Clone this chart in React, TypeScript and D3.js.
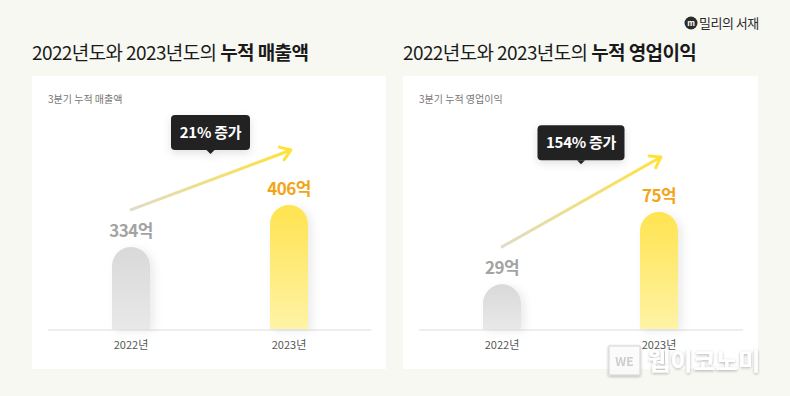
import * as d3 from 'd3';

const years = ['2022년', '2023년'];
const salesValues = [334, 406];
const profitValues = [29, 75];
const growthLabels = ['21% 증가', '154% 증가'];
const titleLight = '2022년도와 2023년도의 ';
const titleBold = ['누적 매출액', '누적 영업이익'];
const subTitles = ['3분기 누적 매출액', '3분기 누적 영업이익'];
const domainMin = [192, 0];

const W = 790;
const H = 396;
const FONT = "'Noto Sans CJK KR', 'Noto Sans', sans-serif";

const panels = [
  { x: 32, w: 354, values: salesValues, tipGap: 30, barX: [112, 270] },
  { x: 403, w: 355, values: profitValues, tipGap: 42, barX: [483, 640] },
];

const baseY = 330;
const barW = 38;

function barPath(x: number, top: number, w: number, bottom: number) {
  const r = w / 2;
  const p = d3.path();
  p.moveTo(x, bottom);
  p.lineTo(x, top + r);
  p.arc(x + r, top + r, r, Math.PI, 0);
  p.lineTo(x + w, bottom);
  p.closePath();
  return p.toString();
}

function Panel({ i }: { i: number }) {
  const pn = panels[i];
  const vals = pn.values;
  const y = d3
    .scaleLinear()
    .domain([domainMin[i], d3.max(vals) as number])
    .range([baseY, i === 0 ? 205 : 212]);
  const centers = pn.barX.map(bx => bx + barW / 2);
  const tops = vals.map(v => y(v));
  const a0 = [centers[0] - 1, tops[0] - 37];
  const a1 = [centers[1] + 2, tops[1] - 55];
  const midX = (a0[0] + a1[0]) / 2;
  const midY = (a0[1] + a1[1]) / 2;
  const ang = Math.atan2(a1[1] - a0[1], a1[0] - a0[0]);
  const hl = 12;
  const h1 = [a1[0] - hl * Math.cos(ang - 0.6), a1[1] - hl * Math.sin(ang - 0.6)];
  const h2 = [a1[0] - hl * Math.cos(ang + 0.6), a1[1] - hl * Math.sin(ang + 0.6)];
  const tipW = i === 0 ? 79 : 87;
  const tipH = 35;
  const tipBottom = midY - pn.tipGap;
  const gid = `arrowGrad${i}`;

  return (
    <g>
      <defs>
        <linearGradient id={gid} gradientUnits="userSpaceOnUse" x1={a0[0]} y1={a0[1]} x2={a1[0]} y2={a1[1]}>
          <stop offset="0" stopColor="#e0dcc8" />
          <stop offset="1" stopColor="#ffe23a" />
        </linearGradient>
      </defs>
      <text x={pn.x} y={60} fontFamily={FONT} fontSize={19} fill="#1a1a1a" letterSpacing={-0.6}>
        <tspan>{titleLight}</tspan>
        <tspan fontWeight={700}>{titleBold[i]}</tspan>
      </text>
      <rect x={pn.x} y={76} width={pn.w} height={293} fill="#ffffff" />
      <text x={pn.x + 16} y={103} fontFamily={FONT} fontSize={10} fill="#777">
        {subTitles[i]}
      </text>
      <line x1={pn.x + 16} x2={pn.x + pn.w - 15} y1={baseY} y2={baseY} stroke="#e8e8e8" strokeWidth={1.5} />
      {vals.map((v, j) => (
        <g key={j}>
          <path
            d={barPath(pn.barX[j], tops[j], barW, baseY - 1)}
            fill={j === 0 ? 'url(#barGray)' : 'url(#barYellow)'}
            filter="url(#barShadow)"
          />
          <text
            x={centers[j]}
            y={tops[j] - 10}
            textAnchor="middle"
            fontFamily={FONT}
            fontSize={17}
            fontWeight={700}
            fill={j === 0 ? '#a3a3a3' : '#f2a516'}
            letterSpacing={-0.5}
          >
            {v}억
          </text>
          <text x={centers[j]} y={baseY + 19} textAnchor="middle" fontFamily={FONT} fontSize={11} fill="#555">
            {years[j]}
          </text>
        </g>
      ))}
      <line x1={a0[0]} y1={a0[1]} x2={a1[0]} y2={a1[1]} stroke={`url(#${gid})`} strokeWidth={3} />
      <polyline
        points={`${h1[0]},${h1[1]} ${a1[0]},${a1[1]} ${h2[0]},${h2[1]}`}
        fill="none"
        stroke="#ffe23a"
        strokeWidth={3}
        strokeLinecap="round"
        strokeLinejoin="round"
      />
      <g filter="url(#tipShadow)">
        <rect x={midX - tipW / 2} y={tipBottom - tipH} width={tipW} height={tipH} rx={4} fill="#222" />
        <path d={`M${midX - 4},${tipBottom} L${midX},${tipBottom + 4} L${midX + 4},${tipBottom} Z`} fill="#222" />
      </g>
      <text
        x={midX}
        y={tipBottom - tipH / 2 + 5.5}
        textAnchor="middle"
        fontFamily={FONT}
        fontSize={15}
        fontWeight={700}
        fill="#fff"
        letterSpacing={-0.3}
      >
        {growthLabels[i]}
      </text>
    </g>
  );
}

export default function App() {
  return (
    <svg width={W} height={H} style={{ display: 'block', position: 'absolute', left: 0, top: 0 }}>
      <defs>
        <linearGradient id="barGray" x1="0" y1="0" x2="0" y2="1">
          <stop offset="0" stopColor="#d9d9d9" />
          <stop offset="1" stopColor="#e8e8e8" />
        </linearGradient>
        <linearGradient id="barYellow" x1="0" y1="0" x2="0" y2="1">
          <stop offset="0" stopColor="#ffe34f" />
          <stop offset="1" stopColor="#fff3a6" />
        </linearGradient>
        <filter id="barShadow" x="-50%" y="-20%" width="200%" height="140%">
          <feDropShadow dx="4" dy="2" stdDeviation="4" floodColor="#000" floodOpacity="0.08" />
        </filter>
        <filter id="tipShadow" x="-30%" y="-30%" width="160%" height="180%">
          <feDropShadow dx="0" dy="3" stdDeviation="4" floodColor="#000" floodOpacity="0.12" />
        </filter>
        <filter id="wmShadow" x="-10%" y="-30%" width="120%" height="160%">
          <feDropShadow dx="0" dy="1" stdDeviation="1.5" floodColor="#000" floodOpacity="0.35" />
        </filter>
      </defs>
      <rect width={W} height={H} fill="#f8f8f3" />
      {/* logo */}
      <circle cx={691} cy={23} r={6.5} fill="#2b2b2b" />
      <text x={691} y={26} textAnchor="middle" fontFamily={FONT} fontSize={8} fontWeight={700} fill="#fff">
        m
      </text>
      <text x={699} y={28} fontFamily={FONT} fontSize={13} fill="#2b2b2b" letterSpacing={-0.5}>
        밀리의 서재
      </text>
      <Panel i={0} />
      <Panel i={1} />
      {/* watermark */}
      <g filter="url(#wmShadow)" opacity={0.9}>
        <rect x={609} y={346} width={31} height={29} fill="#ffffff" fillOpacity={0.85} stroke="#d0d0d0" />
        <text x={624.5} y={366} textAnchor="middle" fontFamily={FONT} fontSize={12} fontWeight={700} fill="#c8c8c8">
          WE
        </text>
        <text x={648} y={370} fontFamily={FONT} fontSize={24} fontWeight={700} fill="#ffffff" letterSpacing={0.5}>
          웹이코노미
        </text>
      </g>
    </svg>
  );
}
